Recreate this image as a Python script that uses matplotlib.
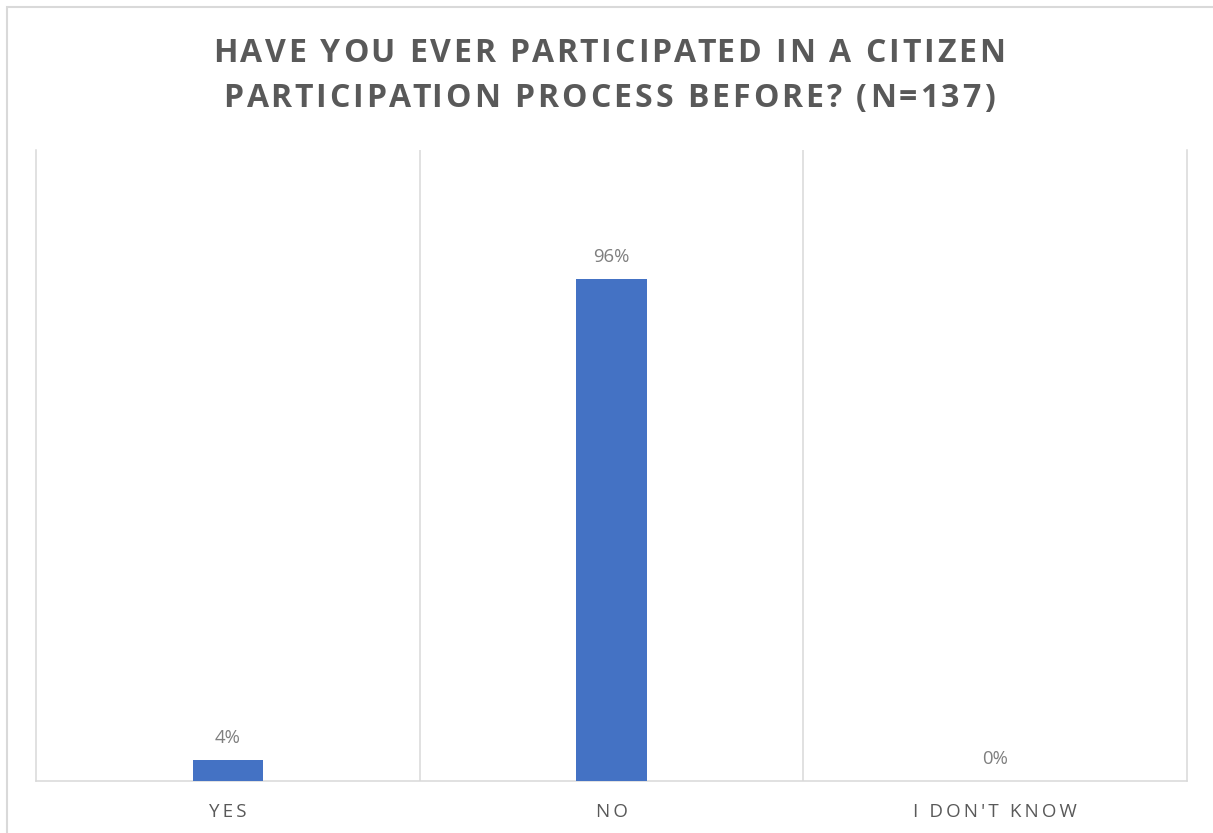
import matplotlib
matplotlib.use("Agg")
import matplotlib.pyplot as plt
from matplotlib.patches import Rectangle
from matplotlib.transforms import IdentityTransform

categories = ["YES", "NO", "I DON'T KNOW"]
values = [4, 96, 0]
value_labels = ["4%", "96%", "0%"]
title_lines = ["HAVE YOU EVER PARTICIPATED IN A CITIZEN",
               "PARTICIPATION PROCESS BEFORE? (N=137)"]

W, H, DPI = 1213, 833, 100
FONT = ["Open Sans", "DejaVu Sans"]
plt.rcParams['font.family'] = FONT

fig = plt.figure(figsize=(W / DPI, H / DPI), dpi=DPI)
fig.patch.set_facecolor("white")

# outer chart border (extends beyond right/bottom like the reference crop)
fig.patches.append(Rectangle((6.5 / W, -0.05), 1.2, (H - 6.5) / H + 0.05,
                             transform=fig.transFigure, fill=False,
                             edgecolor="#d9d9d9", linewidth=1.5))

ax = fig.add_axes([36 / W, 52 / H, (1187 - 36) / W, (781 - 150) / H])
x = list(range(len(categories)))
bars = ax.bar(x, values, width=0.183, color="#4472C4", zorder=3)
ax.set_xlim(-0.5, len(categories) - 0.5)
ax.set_ylim(0, 120.6)
ax.set_yticks([])

grid_c = "#d9d9d9"
ax.spines["top"].set_visible(False)
for s in ["left", "right", "bottom"]:
    ax.spines[s].set_color(grid_c)
    ax.spines[s].set_linewidth(1.1)
for b in [i + 0.5 for i in range(len(categories) - 1)]:
    ax.axvline(b, color=grid_c, linewidth=1.1, zorder=1)

THIN = "\u2009"
ax.set_xticks(x)
ax.set_xticklabels([THIN.join(list(c)) for c in categories], fontsize=13.5,
                   color="#595959")
ax.tick_params(axis="x", length=0, pad=16)

for xi, v, lab in zip(x, values, value_labels):
    ax.annotate(lab, (xi, v), xytext=(0, 12.2), textcoords="offset points",
                ha="center", va="baseline", fontsize=13.3, color="#7f7f7f")

# title with letter spacing
renderer = fig.canvas.get_renderer()

def text_width(s, **kw):
    t = fig.text(0, 0, s, **kw)
    w = t.get_window_extent(renderer).width
    t.remove()
    return w

def spaced_line(s, cx, baseline_y, target_w, **kw):
    ref = text_width("x", **kw)
    natural = text_width(s, **kw)
    sp = (target_w - natural) / (len(s) - 1)
    start = cx - target_w / 2
    for i, ch in enumerate(s):
        if ch == " ":
            continue
        off = text_width(s[:i] + "x", **kw) - ref if i > 0 else 0
        fig.text(start + off + i * sp, baseline_y, ch,
                 transform=IdentityTransform(),
                 ha="left", va="baseline", **kw)

tkw = dict(fontsize=23, fontweight="bold", color="#595959", family=FONT)
spaced_line(title_lines[0], 609, H - 62, 792, **tkw)
spaced_line(title_lines[1], 609, H - 107, 771, **tkw)

fig.savefig("out.png", dpi=DPI, facecolor="white")
